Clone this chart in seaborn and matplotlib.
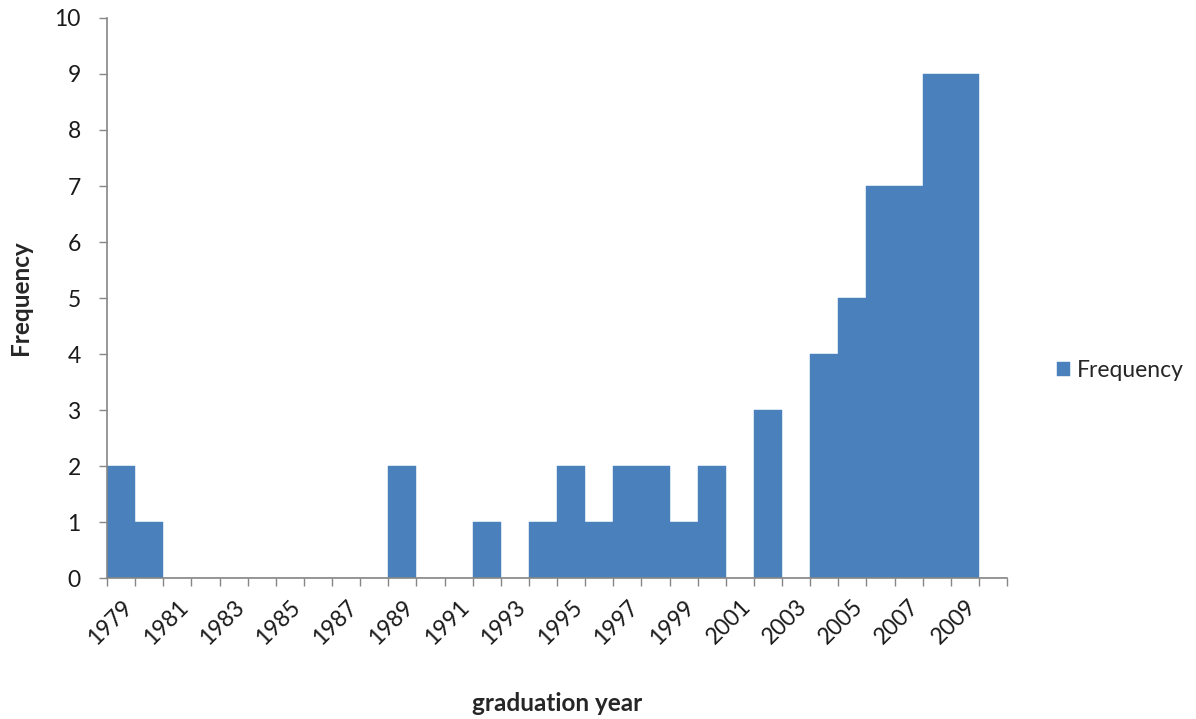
import matplotlib
matplotlib.use("Agg")
import matplotlib.pyplot as plt
import seaborn as sns
import pandas as pd
import numpy as np

# Graduation years (one bin per year, last bin left empty)
years = list(range(1979, 2011))
frequency = [2, 1, 0, 0, 0, 0, 0, 0, 0, 0,
             2, 0, 0, 1, 0, 1, 2, 1, 2, 2,
             1, 2, 0, 3, 0, 4, 5, 7, 7, 9,
             9, 0]
tick_years = [str(y) for y in range(1979, 2010, 2)]

df = pd.DataFrame({"year": [str(y) for y in years], "Frequency": frequency})

sns.set_style("white")
plt.rcParams["font.family"] = ["Lato", "DejaVu Sans"]

fig = plt.figure(figsize=(11.96, 7.19), dpi=100)
ax = fig.add_axes([0.0895, 0.196, 0.7525, 0.779])

bar_color = "#4A81BD"
sns.barplot(data=df, x="year", y="Frequency", order=[str(y) for y in years],
            color=bar_color, width=1.0, saturation=1, edgecolor=bar_color,
            linewidth=0.3, ax=ax, label="Frequency")

ax.set_xlim(-0.5, len(years) - 0.5)
ax.set_ylim(0, 10)
ax.set_yticks(range(0, 11))
ax.tick_params(axis="y", labelsize=16.5, length=6, width=1, color="#868686",
               direction="out", left=True, labelcolor="#1a1a1a", pad=13)

# Labels at every other category centre, tick marks at category borders
label_pos = [years.index(int(t)) for t in tick_years]
ax.set_xticks(label_pos)
ax.set_xticklabels(tick_years, rotation=45, ha="right", rotation_mode="anchor",
                   fontsize=16.5, color="#1a1a1a")
ax.tick_params(axis="x", which="major", length=0, pad=13)
ax.set_xticks(np.arange(-0.5, len(years), 1.0), minor=True)
ax.tick_params(axis="x", which="minor", length=6, width=1, color="#868686",
               direction="out", bottom=True)

for side in ["top", "right"]:
    ax.spines[side].set_visible(False)
for side in ["left", "bottom"]:
    ax.spines[side].set_color("#868686")
    ax.spines[side].set_linewidth(1.2)

ax.set_xlabel("graduation year", fontsize=17.5, fontweight="bold", labelpad=31)
ax.set_ylabel("Frequency", fontsize=17.5, fontweight="bold", labelpad=16)

ax.legend(loc="center left", bbox_to_anchor=(1.055, 0.371), frameon=False,
          fontsize=16.5, handlelength=0.58, handleheight=0.58,
          handletextpad=0.32, borderpad=0, borderaxespad=0)

fig.savefig("out.png", dpi=100, facecolor="white")
